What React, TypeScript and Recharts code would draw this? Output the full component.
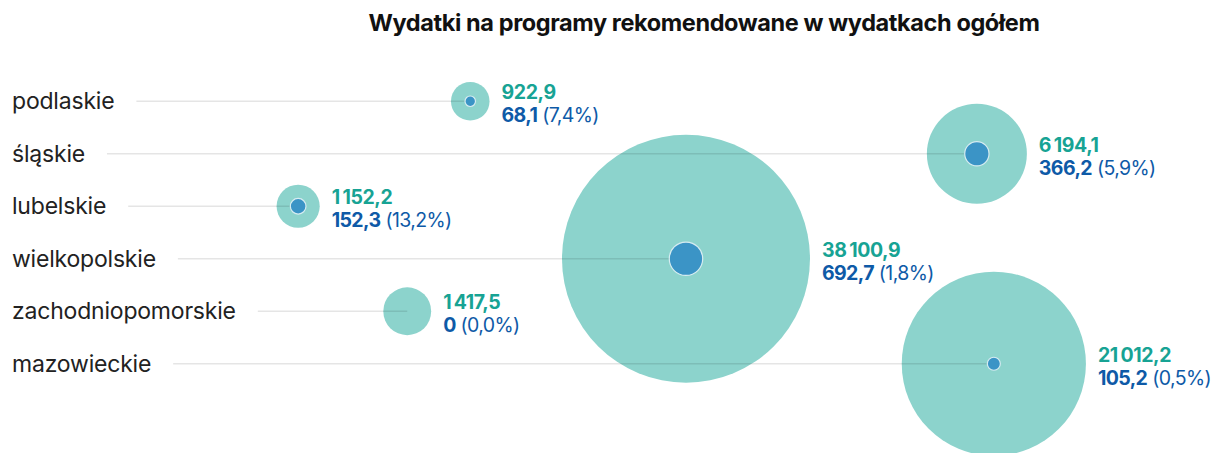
import React from "react";
import { ScatterChart, Scatter, XAxis, YAxis, ZAxis } from "recharts";

const regions = [
  "podlaskie",
  "śląskie",
  "lubelskie",
  "wielkopolskie",
  "zachodniopomorskie",
  "mazowieckie",
];
// wydatki ogółem
const totals = [922.9, 6194.1, 1152.2, 38100.9, 1417.5, 21012.2];
// wydatki na programy rekomendowane
const recommended = [68.1, 366.2, 152.3, 692.7, 0, 105.2];
// horizontal placement of each bubble, % of chart width
const positions = [38.8, 80.6, 24.6, 56.6, 33.6, 82.0];

const W = 1212;
const H = 453;
const MAX_R = 124;
const maxTotal = Math.max(...totals);

const TEAL = "#8cd3cc";
const TEAL_TEXT = "#17a394";
const BLUE = "#3b94c6";
const BLUE_TEXT = "#0e5aa7";
const FONT = "Inter, 'Liberation Sans', sans-serif";
const LABEL_SIZE = 23;

const data = regions.map((name, i) => ({
  name,
  row: i,
  pos: positions[i],
  total: totals[i],
  rec: recommended[i],
}));

function fmt(v: number) {
  if (v === 0) return "0";
  const [int, dec] = v.toFixed(1).split(".");
  return int.replace(/\B(?=(\d{3})+(?!\d))/g, "\u2009") + "," + dec;
}

function pct(rec: number, total: number) {
  return "(" + ((rec / total) * 100).toFixed(1).replace(".", ",") + "%)";
}

let ctx: CanvasRenderingContext2D | null = null;
function textWidth(s: string) {
  if (!ctx) ctx = document.createElement("canvas").getContext("2d");
  if (!ctx) return s.length * 12;
  ctx.font = `${LABEL_SIZE}px ${FONT}`;
  return ctx.measureText(s).width - s.length * 0.2;
}

const radius = (size: number) => Math.sqrt(Math.max(size, 0) / Math.PI);

const BigBubble = (props: any) => (
  <circle cx={props.cx} cy={props.cy} r={radius(props.size)} fill={TEAL} />
);

// row name on the left plus the thin guide line running into the bubble
const RowGuide = (props: any) => {
  const { cx, cy, payload } = props;
  const start = 12 + textWidth(payload.name) + 22;
  return (
    <g>
      <text x={12} y={cy + 8} fontSize={LABEL_SIZE} fill="#222" fontFamily={FONT} letterSpacing={-0.2}>
        {payload.name}
      </text>
      <line x1={start} x2={cx} y1={cy} y2={cy} stroke="rgba(0,0,0,0.1)" strokeWidth={1.5} />
    </g>
  );
};

const SmallBubble = (props: any) => {
  const r = radius(props.size);
  if (r <= 0) return <g />;
  return <circle cx={props.cx} cy={props.cy} r={r} fill={BLUE} stroke="#d6ecf1" strokeWidth={1.2} />;
};

const ValueLabel = (props: any) => {
  const { cx, cy, payload } = props;
  const x = cx + radius(props.size) + 12;
  return (
    <g fontFamily={FONT}>
      <text x={x} y={cy - 2} fontSize={19.5} fontWeight={700} fill={TEAL_TEXT} letterSpacing={-0.4}>
        {fmt(payload.total)}
      </text>
      <text x={x} y={cy + 21} fontSize={19.5} fill={BLUE_TEXT} letterSpacing={-0.6}>
        <tspan fontWeight={700}>{fmt(payload.rec)}</tspan>
        <tspan> {pct(payload.rec, payload.total)}</tspan>
      </text>
    </g>
  );
};

export default function App() {
  return (
    <div style={{ position: "absolute", left: 0, top: 0, width: W, height: H, background: "#fff" }}>
      <div
        style={{
          position: "absolute",
          left: 704,
          top: 11,
          transform: "translateX(-50%)",
          whiteSpace: "nowrap",
          fontFamily: FONT,
          fontWeight: 700,
          fontSize: 23.5,
          lineHeight: "23px",
          letterSpacing: -0.4,
          color: "#111",
        }}
      >
        Wydatki na programy rekomendowane w wydatkach ogółem
      </div>
      <ScatterChart width={W} height={H} margin={{ top: 75, right: 0, bottom: 63, left: 0 }}>
        <XAxis type="number" dataKey="pos" domain={[0, 100]} hide />
        <YAxis type="number" dataKey="row" domain={[-0.5, 5.5]} reversed hide />
        <ZAxis zAxisId="t" type="number" dataKey="total" domain={[0, maxTotal]} range={[0, Math.PI * MAX_R * MAX_R]} />
        <ZAxis zAxisId="r" type="number" dataKey="rec" domain={[0, maxTotal]} range={[0, Math.PI * MAX_R * MAX_R]} />
        <Scatter data={data} zAxisId="t" shape={BigBubble} isAnimationActive={false} />
        <Scatter data={data} zAxisId="t" shape={RowGuide} isAnimationActive={false} />
        <Scatter data={data} zAxisId="r" shape={SmallBubble} isAnimationActive={false} />
        <Scatter data={data} zAxisId="t" shape={ValueLabel} isAnimationActive={false} />
      </ScatterChart>
    </div>
  );
}
